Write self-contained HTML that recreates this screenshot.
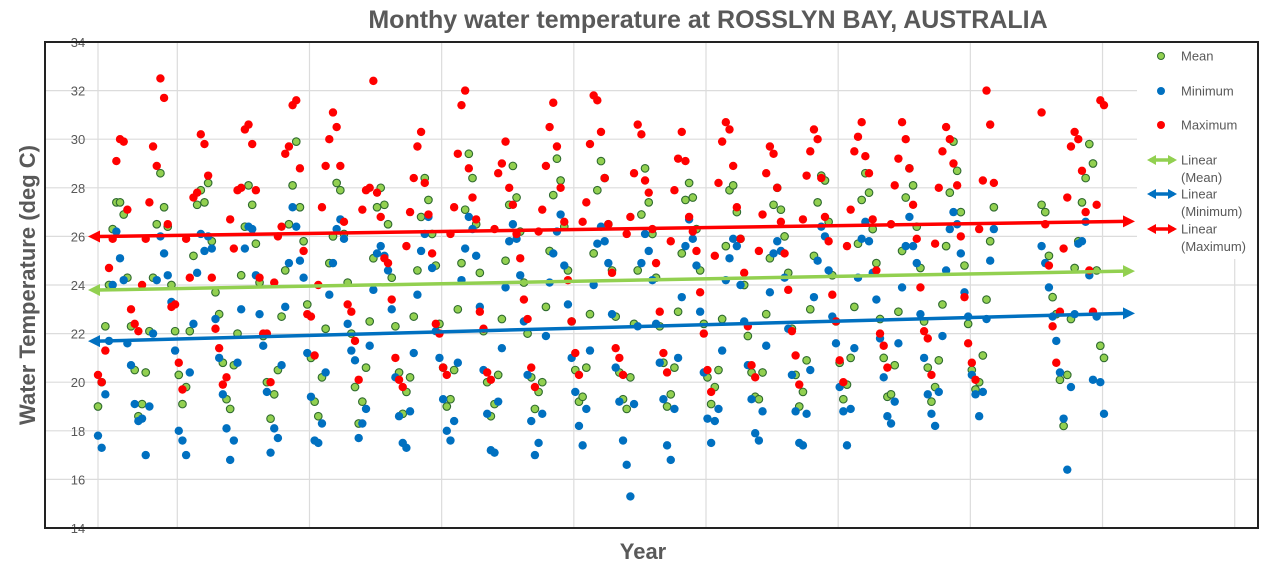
<!DOCTYPE html>
<html><head><meta charset="utf-8"><style>
body{margin:0;background:#fff;width:1280px;height:569px;overflow:hidden;font-family:"Liberation Sans",sans-serif}
</style></head><body>
<svg id="chart" width="1280" height="569" xmlns="http://www.w3.org/2000/svg">
<rect width="1280" height="569" fill="#fff"/>
<text x="708" y="28" text-anchor="middle" font-size="25" font-weight="bold" fill="#595959">Monthy water temperature at ROSSLYN BAY, AUSTRALIA</text>
<g id="grid"></g>
<g id="yticks"></g>
<g id="marks"></g>
<g id="trends"></g>
<rect x="1137" y="43" width="120" height="216" fill="#fff"/>
<rect x="45" y="42" width="1213" height="486" fill="none" stroke="#222" stroke-width="2"/>
<g id="legend" font-size="13" fill="#595959"></g>
<text transform="translate(35,285) rotate(-90)" text-anchor="middle" font-size="22" font-weight="bold" fill="#595959">Water Temperature (deg C)</text>
<text x="643" y="559" text-anchor="middle" font-size="22" font-weight="bold" fill="#595959">Year</text>
</svg>
<script>
const N=null;
const meanVals=[
19.0,20.0,22.3,24.0,26.3,27.4,27.4,26.9,24.3,22.3,20.5,18.6,
19.1,20.4,22.1,24.3,26.5,28.6,27.2,26.4,24.0,22.1,20.3,19.1,
19.8,22.1,25.2,27.3,27.9,27.4,28.2,25.8,23.7,22.8,20.8,19.3,
18.9,20.7,22.0,24.4,26.4,28.1,27.3,25.7,24.1,21.9,20.0,18.5,
19.5,20.5,22.7,24.6,26.5,28.1,29.9,27.2,25.8,23.2,21.0,19.2,
18.6,20.2,22.2,24.9,26.0,28.2,27.9,26.1,24.1,22.0,19.8,18.3,
19.2,20.6,22.5,25.1,27.2,28.0,27.3,26.5,24.3,22.3,20.4,18.7,
19.6,20.2,22.7,24.6,26.8,28.4,27.5,26.1,24.8,22.4,20.6,19.0,
19.3,20.5,23.0,24.9,27.1,29.4,28.4,26.5,24.5,22.1,20.0,18.6,
19.1,20.3,22.6,25.0,27.3,28.9,27.6,26.2,24.1,22.0,20.2,18.9,
19.6,20.0,23.1,25.4,27.7,29.2,28.3,26.4,24.6,22.5,20.5,19.2,
19.4,20.6,22.8,25.3,27.9,29.1,28.4,26.5,24.6,22.7,20.4,19.3,
18.9,20.2,22.4,24.6,26.9,28.8,27.4,26.1,24.3,22.3,20.8,19.0,
19.5,20.6,22.9,25.3,27.5,28.2,27.6,26.3,24.6,22.4,20.2,19.1,
19.8,20.5,22.6,25.6,27.9,28.1,27.0,25.9,24.0,21.9,20.4,19.4,
19.3,20.4,22.8,25.1,27.3,28.0,27.1,26.0,24.5,22.2,20.3,19.0,
19.6,20.9,23.0,25.2,27.4,28.5,28.3,26.6,24.4,22.5,20.8,19.3,
19.9,21.0,23.1,25.7,27.5,28.6,27.8,26.3,24.9,22.6,21.0,19.4,
19.5,20.7,22.9,25.4,27.6,28.8,28.1,26.4,24.7,22.5,20.6,19.2,
19.8,20.9,23.2,25.6,27.8,29.9,28.7,27.0,24.8,22.4,20.5,19.7,
20.0,21.1,23.4,25.8,27.2,N,N,N,N,N,N,N,
N,N,N,N,N,27.3,27.0,25.2,23.5,22.8,20.1,18.2,
20.3,22.6,24.7,25.8,27.4,28.4,29.8,29.0,24.6,21.5,21.0];
const minVals=[
17.8,17.3,19.5,21.7,24.0,26.2,25.1,24.2,21.6,20.7,19.1,18.4,
18.5,17.0,19.0,22.0,24.2,26.0,25.3,24.4,23.3,21.3,18.0,17.6,
17.0,20.4,22.4,24.5,26.1,25.4,26.0,25.5,22.6,21.0,19.5,18.1,
16.8,17.6,20.8,23.0,25.5,26.4,26.3,24.4,22.8,21.5,19.6,17.1,
18.1,17.7,20.7,23.1,24.9,27.2,26.4,25.0,24.3,21.2,19.4,17.6,
17.5,18.3,20.4,23.6,24.9,26.3,26.7,25.9,22.4,21.3,20.9,17.7,
18.3,18.9,21.5,23.8,25.3,25.6,25.2,24.6,23.0,20.2,18.6,17.5,
17.3,18.8,21.2,23.6,25.4,26.1,26.8,24.7,22.1,21.0,19.3,18.0,
17.6,18.4,20.8,24.2,25.5,26.8,26.3,25.2,23.1,20.5,18.7,17.2,
17.1,19.2,21.4,23.9,25.8,26.5,25.9,24.4,22.5,20.3,18.4,17.0,
17.5,18.7,21.9,24.1,25.3,26.2,26.9,24.8,23.2,21.0,19.6,18.2,
17.4,18.9,21.3,24.0,25.7,26.4,25.8,24.9,22.8,20.6,19.2,17.6,
16.6,15.3,19.1,22.3,24.9,26.1,25.4,24.2,22.4,20.8,19.3,17.4,
16.8,18.9,21.0,23.5,25.6,26.7,25.9,24.8,22.9,20.4,18.5,17.5,
18.4,18.9,21.3,24.2,25.1,25.9,25.6,24.0,22.5,20.7,19.3,17.9,
17.6,18.8,21.5,23.7,25.3,25.8,25.4,24.3,22.2,20.3,18.8,17.5,
17.4,18.7,20.5,23.5,25.0,26.4,26.0,24.6,22.7,21.6,19.8,18.8,
17.4,18.9,21.4,24.3,25.9,26.6,25.8,24.5,23.4,21.8,20.2,18.6,
18.3,19.2,21.6,23.9,25.6,26.8,25.6,24.9,22.8,21.0,19.5,18.7,
18.2,19.6,21.9,24.6,26.3,27.0,26.5,25.3,23.7,22.7,20.3,19.5,
18.6,19.6,22.6,25.0,26.3,N,N,N,N,N,N,N,
N,N,N,N,N,25.6,24.9,23.9,22.7,21.7,20.4,18.5,
16.4,19.8,22.8,25.7,25.8,26.6,24.4,20.1,22.7,20.0,18.7];
const maxVals=[
20.3,20.0,21.3,24.7,25.9,29.1,30.0,29.9,27.1,23.0,22.4,22.1,
24.0,25.9,27.4,29.7,28.9,32.5,31.7,26.5,23.1,23.2,20.8,19.7,
25.9,24.3,27.6,27.8,30.2,29.8,28.5,24.3,22.2,21.4,19.9,20.2,
26.7,25.5,27.9,28.0,30.4,30.6,29.8,27.9,24.3,22.0,22.0,20.0,
24.1,26.0,26.4,29.4,29.7,31.4,31.6,28.8,25.4,22.8,22.7,21.1,
24.0,27.2,28.9,30.0,31.1,30.5,28.9,26.6,23.2,22.9,21.7,20.1,
27.1,27.9,28.0,32.4,27.8,26.8,25.1,24.9,23.4,21.0,20.1,19.8,
25.6,27.0,28.4,29.7,30.3,28.2,26.9,25.3,22.4,22.0,20.6,20.3,
26.1,27.2,29.4,31.4,32.0,28.8,27.6,26.7,22.9,22.2,20.4,20.1,
26.3,28.6,29.0,29.9,28.0,27.3,26.1,25.1,23.4,22.6,20.6,19.8,
26.2,27.1,28.9,30.5,31.5,29.7,28.0,26.6,24.2,22.5,21.2,20.3,
26.6,27.4,29.8,31.8,31.6,30.3,28.4,26.5,24.5,21.4,21.0,20.3,
26.1,26.8,28.6,30.6,30.2,28.3,27.8,26.3,24.9,22.9,21.2,20.4,
25.8,27.9,29.2,30.3,29.1,26.8,26.2,25.4,23.7,22.0,20.5,19.6,
25.2,28.2,29.9,30.7,30.4,28.9,27.2,25.9,24.5,22.3,20.7,20.2,
25.4,26.9,28.6,29.7,29.4,28.0,26.6,25.3,23.8,22.1,21.1,19.9,
26.7,28.5,29.5,30.4,30.0,28.4,26.8,25.8,23.6,22.5,20.9,20.0,
25.6,27.1,29.5,30.1,30.7,29.3,28.6,26.7,24.6,22.0,21.5,20.6,
26.5,28.1,29.2,30.7,30.0,28.8,27.3,25.9,23.9,22.1,21.8,20.3,
25.7,28.0,29.5,30.5,30.0,29.0,28.1,26.0,23.5,21.6,20.8,20.1,
26.3,28.3,32.0,30.6,28.2,N,N,N,N,N,N,N,
N,N,N,N,N,31.1,26.5,24.8,22.3,20.8,22.9,25.5,
27.6,29.7,30.3,30.0,28.7,27.0,24.6,22.9,27.3,31.6,31.4];
const yTicks=[14,16,18,20,22,24,26,28,30,32,34];
const trendMean=[23.8,24.55];
const trendMin=[21.7,22.8];
const trendMax=[26.0,26.6];
const xGridMonths=[0,21.6,57.6,93.6,129.6,165.6,201.6,237.6,273.6,309.6];

const NS="http://www.w3.org/2000/svg";
const X0=98,X1=1104,Y0=528,Y1=42,nM=maxVals.length-1;
function xs(i){return X0+(X1-X0)*i/nM;}
function ys(v){return Y0-(v-14)/(34-14)*(Y0-Y1);}
function mk(tag,attrs,parent){const e=document.createElementNS(NS,tag);for(const k in attrs)e.setAttribute(k,attrs[k]);parent.appendChild(e);return e;}
const grid=document.getElementById('grid'),yt=document.getElementById('yticks'),marks=document.getElementById('marks'),trends=document.getElementById('trends'),legend=document.getElementById('legend');
yTicks.forEach(t=>{
  const l=mk('line',{x1:45,x2:1258,y1:ys(t),y2:ys(t),stroke:'#dcdcdc','stroke-width':1.2},grid);
  
  
  const tx=mk('text',{x:78,y:ys(t)+5,'text-anchor':'middle','font-size':13,fill:'#595959'},yt);
  tx.textContent=t;
  
  
});
xGridMonths.forEach(m=>{
  const l=mk('line',{x1:xs(m),x2:xs(m),y1:42,y2:528,stroke:'#dcdcdc','stroke-width':1.2},grid);
  
  
});
function series(vals,fill,stroke,name){
  vals.forEach((v,i)=>{ if(v===null)return;
    const c=mk('circle',{cx:xs(i),cy:ys(v),r:stroke?3.8:4.2,fill:fill},marks);
    if(stroke){c.setAttribute('stroke',stroke);c.setAttribute('stroke-width',1.1);}
    
    
  });
}
series(meanVals,'#92d050','#2f6b2f','mean-point');
series(minVals,'#0070c0',null,'minimum-point');
series(maxVals,'#ff0000',null,'maximum-point');
function arrowLine(vals,col,name){
  const xa=88,xb=1135;
  const slope=(vals[1]-vals[0])/(X1-X0);
  const va=vals[0]+slope*(xa-X0),vb=vals[0]+slope*(xb-X0);
  const g=mk('g',{},trends);
  
  
  mk('line',{x1:xa+10,y1:ys(va),x2:xb-10,y2:ys(vb),stroke:col,'stroke-width':3.5},g);
  mk('polygon',{points:`${xa},${ys(va)} ${xa+12},${ys(va)-6} ${xa+12},${ys(va)+6}`,fill:col},g);
  mk('polygon',{points:`${xb},${ys(vb)} ${xb-12},${ys(vb)-6} ${xb-12},${ys(vb)+6}`,fill:col},g);
}
arrowLine(trendMean,'#92d050','trend-mean');
arrowLine(trendMin,'#0070c0','trend-minimum');
arrowLine(trendMax,'#ff0000','trend-maximum');
const legItems=[['Mean','#92d050','#2f6b2f',56,'c'],['Minimum','#0070c0',null,91,'c'],['Maximum','#ff0000',null,125,'c'],
['Linear','#92d050',null,160,'a','(Mean)'],['Linear','#0070c0',null,194,'a','(Minimum)'],['Linear','#ff0000',null,229,'a','(Maximum)']];
legItems.forEach(it=>{
  const g=mk('g',{},legend);
  
  
  if(it[4]==='c'){mk('circle',{cx:1161,cy:it[3],r:it[2]?3.5:4,fill:it[1],stroke:it[2]||'none','stroke-width':1},g);}
  else{mk('line',{x1:1150,x2:1174,y1:it[3],y2:it[3],stroke:it[1],'stroke-width':3.5},g);
    mk('polygon',{points:`1147,${it[3]} 1156,${it[3]-5} 1156,${it[3]+5}`,fill:it[1]},g);
    mk('polygon',{points:`1177,${it[3]} 1168,${it[3]-5} 1168,${it[3]+5}`,fill:it[1]},g);}
  const t=mk('text',{x:1181,y:it[3]+4.5},g);t.textContent=it[0];
  if(it[5]){const t2=mk('text',{x:1181,y:it[3]+22},g);t2.textContent=it[5];}
});
</script>
</body></html>
